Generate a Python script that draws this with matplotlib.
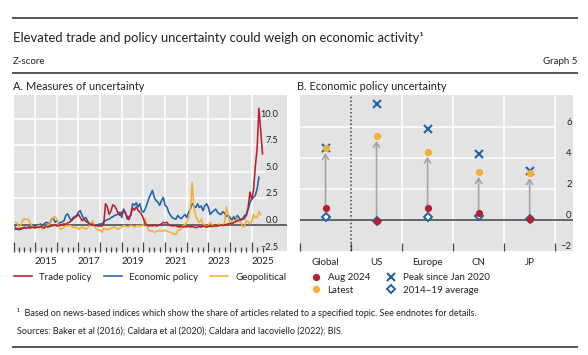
import numpy as np
import pandas as pd
import matplotlib
matplotlib.use("Agg")
import matplotlib.pyplot as plt
from matplotlib.lines import Line2D

plt.rcParams['font.family'] = ['Lato', 'DejaVu Sans']

# Panel A: monthly z-scores, Jan 2014 onwards
trade_policy = [
    -0.4, -0.35, -0.4, -0.3, -0.35, -0.25, -0.3, -0.2, -0.3, -0.25,
    -0.2, -0.3, -0.2, -0.25, -0.15, -0.2, -0.3, -0.1, -0.2, -0.15,
    -0.1, -0.05, 0.0, -0.1, -0.05, 0.0, 0.05, 0.1, 0.05, 0.2,
    0.25, 0.4, 0.55, 0.7, 0.8, 1.0, 0.7, 0.4, 0.55, 0.35,
    0.25, 0.1, 0.05, 0.0, -0.05, -0.05, -0.1, -0.1, -0.1, 0.1,
    2.0, 1.7, 1.0, 1.3, 1.9, 1.8, 1.5, 1.1, 0.9, 1.2,
    1.3, 1.1, 0.8, 0.5, 1.0, 1.6, 1.4, 1.7, 1.4, 1.2,
    1.0, 0.6, 0.1, 0.0, -0.1, -0.05, -0.1, 0.0, -0.1, -0.05,
    0.0, 0.1, 0.25, 0.2, 0.25, 0.05, -0.05, -0.1, -0.05, -0.1,
    -0.15, -0.2, -0.1, -0.2, -0.15, -0.2, -0.1, -0.2, -0.15, -0.2,
    -0.25, -0.2, -0.15, -0.2, -0.1, -0.15, -0.2, -0.15, -0.1, -0.15,
    -0.1, -0.05, -0.1, -0.05, 0.0, -0.05, 0.0, 0.05, 0.1, 0.1,
    0.15, 0.2, 0.3, 0.4, 0.45, 0.5, 0.55, 0.6, 1.0, 1.6,
    3.1, 2.4, 3.3, 5.5, 7.2, 11.0, 8.8, 6.7,
]
economic_policy = [
    -0.2, -0.4, -0.45, -0.4, -0.3, -0.2, -0.3, -0.25, -0.2, -0.1,
    -0.05, -0.1, -0.2, 0.0, 0.1, -0.05, 0.1, 0.25, 0.2, 0.1,
    0.5, 0.7, 0.25, 0.4, 0.1, 0.25, 0.3, 0.4, 0.9, 1.05,
    0.7, 0.4, 0.7, 0.8, 0.9, 1.2, 1.35, 0.9, 0.55, 0.7,
    0.4, 0.1, 0.15, 0.1, 0.0, -0.05, 0.05, 0.1, 0.1, 0.3,
    0.4, 0.5, 0.55, 0.7, 0.75, 0.9, 0.95, 1.0, 1.2, 0.7,
    1.5, 1.2, 0.55, 0.8, 0.9, 2.0, 1.85, 2.1, 1.7, 2.0,
    1.35, 1.2, 1.5, 2.0, 2.5, 2.9, 3.25, 2.6, 2.3, 2.15,
    1.85, 2.3, 2.6, 1.85, 1.7, 1.2, 0.9, 0.7, 0.6, 0.55,
    0.9, 0.7, 0.6, 0.8, 1.0, 0.7, 1.2, 1.5, 2.0, 1.8,
    1.65, 2.0, 1.65, 1.8, 1.35, 1.8, 2.0, 1.65, 1.0, 1.2,
    1.35, 1.5, 1.2, 1.05, 1.0, 1.25, 1.1, 0.8, 0.95, 0.7,
    0.45, 0.8, 0.45, 0.9, 0.7, 0.45, 0.6, 0.9, 0.85, 1.5,
    2.1, 2.45, 2.6, 2.8, 3.4, 4.5,
]
geopolitical = [
    0.25, 0.2, -0.2, 0.0, 0.4, 0.6, 0.5, 0.55, 0.25, -0.05,
    -0.3, -0.25, -0.2, -0.05, -0.1, -0.4, -0.2, -0.05, 0.0, 0.1,
    0.4, 0.7, 0.8, 0.6, -0.05, -0.4, -0.3, -0.2, -0.05, -0.1,
    -0.05, -0.1, -0.2, -0.25, -0.2, -0.4, -0.3, -0.2, -0.3, -0.4,
    -0.3, -0.05, 0.2, 0.4, -0.2, -0.4, -0.45, -0.5, -0.7, -0.3,
    -0.4, -0.45, -0.4, -0.3, -0.25, -0.2, -0.3, -0.4, -0.3, -0.2,
    -0.05, -0.1, -0.2, -0.15, -0.05, -0.1, -0.2, -0.1, -0.05, -0.1,
    -0.05, 0.0, 0.6, -0.2, -0.5, -0.6, -0.55, -0.7, -0.6, -0.6,
    -0.5, -0.6, -0.55, -0.5, -0.6, -0.65, -0.7, -0.8, -0.85, -0.9,
    -0.5, -0.5, -0.3, -0.05, 0.0, 0.25, 0.6, 1.5, 4.0, 1.5,
    0.9, 0.4, 0.25, 0.55, 0.1, 0.0, -0.2, 0.0, 0.25, 0.0,
    -0.05, -0.2, -0.1, 0.1, -0.05, 0.0, 0.2, 1.7, 0.9, 0.0,
    0.4, 0.3, 0.25, 0.7, 0.3, 0.25, -0.2, -0.1, 0.4, 0.3,
    0.1, 0.3, 1.0, 0.7, 0.7, 1.25, 0.95,
]

# Panel B: economic policy uncertainty by region
regions = ['Global', 'US', 'Europe', 'CN', 'JP']
aug_2024 = [0.75, -0.08, 0.77, 0.43, 0.04]
latest = [4.63, 5.4, 4.39, 3.08, 3.01]
peak_since_2020 = [4.63, 7.46, 5.87, 4.24, 3.18]
avg_2014_19 = [0.17, -0.08, 0.2, 0.28, 0.04]

year_labels = ['2015', '2017', '2019', '2021', '2023', '2025']

RED = '#b8202e'
BLUE = '#1f63ad'
YELLOW = '#f2b134'
BG = '#e3e3e3'
ZERO = '#5a5a5a'
TXT = '#222222'


def month_pos(n):
    # month-end position as decimal year
    per = pd.period_range('2014-01', periods=n, freq='M')
    return per.year + per.month / 12.0


fig = plt.figure(figsize=(5.88, 3.55), dpi=100)

# header / footer rules
for yy in [1 - 18 / 355, 1 - 73 / 355, 1 - 347 / 355]:
    fig.add_artist(Line2D([13 / 588, 577 / 588], [yy, yy], transform=fig.transFigure,
                          color='#555555', lw=1.4))

fig.text(13 / 588, 1 - 38 / 355, 'Elevated trade and policy uncertainty could weigh on economic activity¹',
         fontsize=9.4, va='center', color=TXT)
fig.text(13 / 588, 1 - 61 / 355, 'Z-score', fontsize=7, va='center', color=TXT)
fig.text(577 / 588, 1 - 61 / 355, 'Graph 5', fontsize=7, va='center', ha='right', color=TXT)
fig.text(13 / 588, 1 - 86 / 355, 'A. Measures of uncertainty', fontsize=7.9, va='center', color=TXT)
fig.text(297 / 588, 1 - 86 / 355, 'B. Economic policy uncertainty', fontsize=7.9, va='center', color=TXT)

# ---- Panel A
axA = fig.add_axes([13.5 / 588, 1 - 251.5 / 355, (287 - 13.5) / 588, (251.5 - 95) / 355])
axA.set_facecolor(BG)
for s in axA.spines.values():
    s.set_visible(False)
x_end = 2025.62
axA.set_xlim(2014, 2026.63)
axA.set_ylim(-2.5, 12.25)
frac_end = (x_end - 2014) / (2026.63 - 2014)
for v in [2.5, 5.0, 7.5, 10.0]:
    axA.axhline(v, xmax=frac_end, color='white', lw=1.1, zorder=0.5)
for yr in range(2015, 2026):
    axA.axvline(yr, color='white', lw=1.1, zorder=0.5)
axA.axhline(0, color=ZERO, lw=1.3, zorder=1.5)

lb, = axA.plot(month_pos(len(economic_policy)), economic_policy, color=BLUE, lw=1.15, zorder=2)
ly, = axA.plot(month_pos(len(geopolitical)), geopolitical, color=YELLOW, lw=1.15, zorder=2.2)
lr, = axA.plot(month_pos(len(trade_policy)), trade_policy, color=RED, lw=1.15, zorder=2.4)

axA.set_xticks(range(2014, 2026))
axA.set_xticks(np.arange(2014, 2025.6, 0.25), minor=True)
axA.tick_params(axis='x', which='major', direction='in', length=7, width=0.9, color='#444444', labelbottom=False)
axA.tick_params(axis='x', which='minor', direction='in', length=3.5, width=0.9, color='#444444')
secA = axA.secondary_xaxis('bottom')
secA.set_xticks([int(y) + 0.5 for y in year_labels], year_labels)
secA.tick_params(length=0, pad=4, labelsize=7, labelcolor=TXT)
for s in secA.spines.values():
    s.set_visible(False)

axA.yaxis.tick_right()
axA.set_yticks([-2.5, 0, 2.5, 5.0, 7.5, 10.0])
axA.set_yticklabels(['\u22122.5', '0.0', '2.5', '5.0', '7.5', '10.0'])
axA.tick_params(axis='y', length=0, pad=-6.5, labelsize=6.6, labelcolor=TXT)
for t in axA.get_yticklabels():
    t.set_ha('right')
    t.set_va('bottom')

fig.legend([lr, lb, ly], ['Trade policy', 'Economic policy', 'Geopolitical'],
           loc='center left', bbox_to_anchor=(14 / 588, 1 - 277 / 355), ncol=3, frameon=False,
           fontsize=7, handlelength=1.85, handletextpad=0.7, columnspacing=1.3,
           borderpad=0, borderaxespad=0, labelcolor=TXT)

# ---- Panel B
axB = fig.add_axes([300 / 588, 1 - 251 / 355, (573 - 300) / 588, (251 - 95) / 355])
axB.set_facecolor(BG)
for s in axB.spines.values():
    s.set_visible(False)
xpos = np.arange(len(regions))
axB.set_xlim(-0.5, 4.85)
axB.set_ylim(-2, 8.05)
fracB = (4.5 + 0.5) / (4.85 + 0.5)
for v in [2, 4, 6]:
    axB.axhline(v, xmax=fracB, color='white', lw=1.1, zorder=0.5)
for xv in [1.5, 2.5, 3.5, 4.5]:
    axB.axvline(xv, color='white', lw=1.1, zorder=0.5)
axB.axvline(0.5, color='#444444', lw=1.1, ls=(0, (1, 1.5)), zorder=1)
axB.axhline(0, color=ZERO, lw=1.3, zorder=1.5)

for xi, a, l in zip(xpos, aug_2024, latest):
    axB.annotate('', xy=(xi, l), xytext=(xi, a),
                 arrowprops=dict(arrowstyle='->, head_length=0.35, head_width=0.22',
                                 color='#a5a5a5', lw=1.2, shrinkA=0, shrinkB=3.5), zorder=2)
hx, = axB.plot(xpos, peak_since_2020, ls='none', marker='x', ms=5.5, mew=1.5, color=BLUE, zorder=3)
hd, = axB.plot(xpos, avg_2014_19, ls='none', marker='D', ms=4.2, mew=1.4, mfc='white', mec=BLUE, zorder=3)
hr, = axB.plot(xpos, aug_2024, ls='none', marker='o', ms=4.2, color=RED, zorder=4)
hl, = axB.plot(xpos, latest, ls='none', marker='o', ms=4.2, color=YELLOW, zorder=4)

axB.set_xticks([-0.5, 0.5, 1.5, 2.5, 3.5, 4.5])
axB.set_xticks(xpos, regions, minor=True)
axB.tick_params(axis='x', which='major', direction='in', length=6, width=0.9, color='#444444', labelbottom=False)
axB.tick_params(axis='x', which='minor', length=0, pad=5, labelsize=7, labelcolor=TXT)

axB.yaxis.tick_right()
axB.set_yticks([-2, 0, 2, 4, 6])
axB.set_yticklabels(['\u22122', '0', '2', '4', '6'])
axB.tick_params(axis='y', length=0, pad=-1, labelsize=6.8, labelcolor=TXT)
for t in axB.get_yticklabels():
    t.set_ha('right')
    t.set_va('bottom')

fig.legend([hr, hl, hx, hd], ['Aug 2024', 'Latest', 'Peak since Jan 2020', '2014\u201319 average'],
           loc='center left', bbox_to_anchor=(310 / 588, 1 - 284 / 355), ncol=2, frameon=False,
           fontsize=7, handlelength=1.2, handletextpad=0.6, columnspacing=1.6, labelspacing=0.35,
           borderpad=0, borderaxespad=0, labelcolor=TXT)

fig.text(17 / 588, 1 - 313 / 355,
         '¹  Based on news-based indices which show the share of articles related to a specified topic. See endnotes for details.',
         fontsize=6.5, va='center', color=TXT)
fig.text(17 / 588, 1 - 331 / 355,
         'Sources: Baker et al (2016); Caldara et al (2020); Caldara and Iacoviello (2022); BIS.',
         fontsize=6.5, va='center', color=TXT)

fig.savefig('out.png', dpi=100)
